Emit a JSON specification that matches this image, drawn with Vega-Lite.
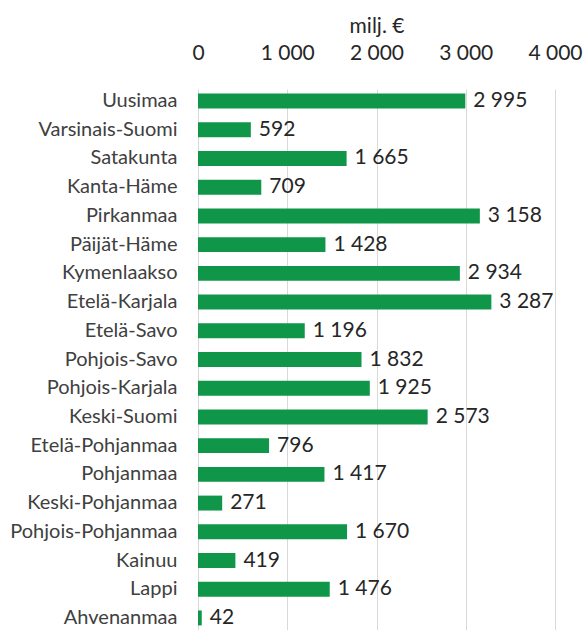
{
  "$schema": "https://vega.github.io/schema/vega-lite/v6.json",
  "width": 357,
  "height": 541,
  "autosize": {"type": "none"},
  "padding": {"left": 198, "top": 89, "right": 29, "bottom": 0},
  "background": "white",
  "config": {
    "locale": {"number": {"decimal": ",", "thousands": " ", "grouping": [3], "currency": ["", " €"]}},
    "view": {"stroke": null},
    "font": "Lato"
  },
  "data": {
    "values": [
      {"region": "Uusimaa", "value": 2995},
      {"region": "Varsinais-Suomi", "value": 592},
      {"region": "Satakunta", "value": 1665},
      {"region": "Kanta-Häme", "value": 709},
      {"region": "Pirkanmaa", "value": 3158},
      {"region": "Päijät-Häme", "value": 1428},
      {"region": "Kymenlaakso", "value": 2934},
      {"region": "Etelä-Karjala", "value": 3287},
      {"region": "Etelä-Savo", "value": 1196},
      {"region": "Pohjois-Savo", "value": 1832},
      {"region": "Pohjois-Karjala", "value": 1925},
      {"region": "Keski-Suomi", "value": 2573},
      {"region": "Etelä-Pohjanmaa", "value": 796},
      {"region": "Pohjanmaa", "value": 1417},
      {"region": "Keski-Pohjanmaa", "value": 271},
      {"region": "Pohjois-Pohjanmaa", "value": 1670},
      {"region": "Kainuu", "value": 419},
      {"region": "Lappi", "value": 1476},
      {"region": "Ahvenanmaa", "value": 42}
    ]
  },
  "encoding": {
    "y": {
      "field": "region", "type": "nominal", "sort": null,
      "scale": {"paddingInner": 0.48, "paddingOuter": 0.16},
      "axis": {"title": null, "ticks": false, "tickSize": 0, "domain": false, "labelPadding": 21, "labelFontSize": 20, "labelColor": "#404040", "labelFont": "Lato"}
    },
    "x": {
      "field": "value", "type": "quantitative",
      "scale": {"domain": [0, 4000], "nice": false},
      "axis": {
        "orient": "top", "values": [0, 1000, 2000, 3000, 4000], "format": ",d",
        "title": "milj. €", "titleFontSize": 21, "titleFontWeight": "normal", "titleColor": "#262626", "titlePadding": 6,
        "labelFontSize": 21, "labelColor": "#262626", "labelPadding": 26, "ticks": false, "tickSize": 0, "domain": false,
        "grid": true, "gridColor": "#d9d9d9", "gridWidth": 1, "labelFlush": false
      }
    }
  },
  "layer": [
    {"mark": {"type": "bar", "color": "#109648"}},
    {
      "mark": {"type": "text", "align": "left", "baseline": "middle", "dx": 8, "fontSize": 21, "color": "#262626"},
      "encoding": {"text": {"field": "value", "type": "quantitative", "format": ",d"}}
    }
  ]
}
